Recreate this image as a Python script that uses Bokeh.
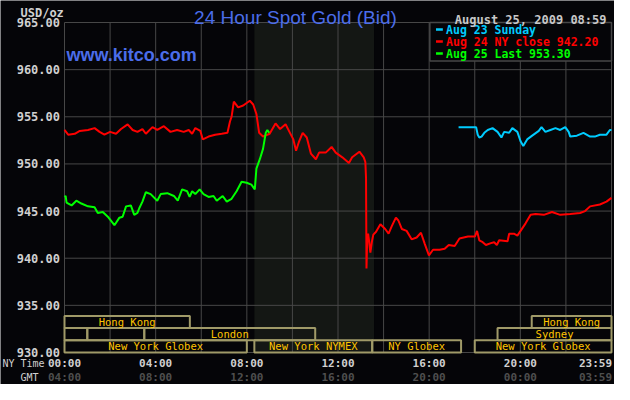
from bokeh.plotting import figure
from bokeh.models import ColumnDataSource, Range1d
from bokeh.core.properties import value
from bokeh.embed import file_html
from bokeh.resources import INLINE

# times are NY hours of the day, prices in USD/oz
aug23_t = [17.29, 18.06, 18.13, 18.2, 18.3, 18.42, 18.57, 18.78, 19.0, 19.17, 19.29, 19.51,
           19.65, 19.87, 20.01, 20.13, 20.3, 20.52, 20.81, 20.93, 21.1, 21.32, 21.54, 21.75,
           21.97, 22.12, 22.19, 22.48, 22.77, 23.06, 23.27, 23.49, 23.78, 23.93, 24.0]
aug23_p = [953.9, 953.9, 953.1, 952.8, 952.9, 953.3, 953.6, 953.8, 953.4, 952.8, 953.4, 953.3,
           953.8, 953.4, 952.4, 951.9, 952.6, 953.0, 953.5, 953.9, 953.4, 953.6, 953.8, 953.6,
           953.9, 953.4, 952.9, 953.0, 953.3, 952.9, 952.9, 953.1, 953.1, 953.6, 953.6]

aug24_t = [0, 0.16, 0.45, 0.67, 1.03, 1.32, 1.54, 1.75, 2.0, 2.26, 2.48, 2.77, 2.99, 3.2, 3.42,
           3.57, 3.86, 4.07, 4.36, 4.65, 4.94, 5.23, 5.45, 5.6, 5.74, 5.96, 6.07, 6.32, 6.61,
           6.9, 7.15, 7.26, 7.33, 7.43, 7.62, 7.84, 8.13, 8.28, 8.42, 8.54, 8.71, 9.0, 9.26,
           9.46, 9.7, 9.87, 10.04, 10.16, 10.28, 10.45, 10.63, 10.81, 11.03, 11.17, 11.46,
           11.72, 11.9, 12.19, 12.48, 12.62, 12.94, 13.13, 13.2, 13.23, 13.25, 13.28, 13.32,
           13.36, 13.42, 13.49, 13.55, 13.67, 13.86, 14.07, 14.22, 14.36, 14.54, 14.65, 14.8,
           15.01, 15.23, 15.45, 15.64, 15.81, 15.99, 16.17, 16.46, 16.68, 16.86, 17.12, 17.33,
           17.7, 18.01, 18.1, 18.2, 18.35, 18.49, 18.71, 18.85, 18.97, 19.07, 19.44, 19.51,
           19.72, 19.87, 20.01, 20.23, 20.45, 20.67, 21.03, 21.39, 21.75, 22.19, 22.62, 22.84,
           23.06, 23.49, 23.78, 24.0]
aug24_p = [953.6, 953.1, 953.2, 953.5, 953.6, 953.8, 953.4, 953.1, 953.4, 953.2, 953.7, 954.2,
           953.6, 953.4, 953.7, 953.2, 953.9, 953.6, 954.0, 953.4, 953.6, 953.4, 953.6, 953.2,
           953.8, 953.5, 952.6, 952.9, 953.1, 953.2, 953.3, 954.5, 955.0, 956.6, 956.0, 956.2,
           956.7, 956.3, 955.3, 953.3, 952.9, 953.2, 954.3, 953.7, 954.2, 953.4, 952.6, 951.4,
           952.3, 953.3, 952.8, 951.1, 950.5, 951.2, 951.2, 951.8, 951.2, 950.7, 950.1, 950.7,
           951.3, 950.7, 950.2, 948.5, 938.9, 942.0, 942.6, 941.9, 940.6, 941.8, 942.5, 942.8,
           943.6, 943.1, 942.6, 943.4, 944.3, 944.0, 943.1, 942.9, 942.0, 942.2, 942.7, 941.5,
           940.3, 940.9, 940.9, 941.0, 941.4, 941.3, 942.1, 942.3, 942.3, 942.9, 941.9, 941.7,
           941.4, 941.6, 941.7, 941.4, 941.9, 941.8, 942.6, 942.6, 942.4, 942.9, 943.7, 944.6,
           944.7, 944.6, 944.9, 944.6, 944.7, 944.8, 945.0, 945.5, 945.7, 946.0, 946.4]

aug25_t = [0, 0.05, 0.09, 0.31, 0.52, 0.74, 1.03, 1.32, 1.46, 1.68, 1.9, 2.19, 2.41, 2.55, 2.7,
           2.91, 3.06, 3.2, 3.28, 3.42, 3.57, 3.78, 4.07, 4.22, 4.51, 4.8, 4.97, 5.16, 5.38,
           5.49, 5.6, 5.74, 5.93, 6.1, 6.32, 6.54, 6.68, 6.94, 7.12, 7.33, 7.55, 7.77, 7.99,
           8.2, 8.35, 8.42, 8.57, 8.71, 8.83, 8.9, 8.98]
aug25_p = [946.5, 946.6, 945.9, 945.6, 946.1, 945.8, 945.5, 945.4, 944.8, 944.9, 944.4, 943.5,
           944.3, 944.4, 945.5, 945.6, 944.6, 944.8, 945.3, 946.0, 947.0, 946.8, 946.1, 946.8,
           946.9, 946.6, 946.1, 947.3, 947.1, 946.5, 947.1, 946.8, 947.3, 946.8, 946.5, 946.6,
           946.1, 946.6, 946.0, 946.3, 947.1, 948.1, 948.0, 947.8, 947.3, 949.5, 950.5, 951.6,
           953.3, 953.6, 953.3]

# trading sessions: row 0 top, row 2 bottom
sess_name = ["Hong Kong", "", "", "London", "New York Globex", "New York NYMEX",
             "NY Globex", "Hong Kong", "Sydney", "New York Globex"]
sess_start = [0, 0, 1, 3.5, 0, 8.33, 13.5, 20.5, 19, 18]
sess_end = [5.5, 1, 3.5, 11, 8.0, 13.5, 17.4, 24, 24, 24]
sess_row = [0, 1, 1, 1, 2, 2, 2, 0, 1, 2]

nymex_start, nymex_end = 8.33, 13.58

price_ticks = [930, 935, 940, 945, 950, 955, 960, 965]
hour_grid = [2, 4, 6, 8, 10, 12, 14, 16, 18, 20, 22]
ny_ticks = [0, 4, 8, 12, 16, 20, 23.3]
ny_labels = ["00:00", "04:00", "08:00", "12:00", "16:00", "20:00", "23:59"]
gmt_labels = ["04:00", "08:00", "12:00", "16:00", "20:00", "00:00", "03:59"]

legend_text = ["Aug 23 Sunday", "Aug 24 NY close 942.20", "Aug 25 Last 953.30"]
legend_color = ["#00CCFF", "#FF0000", "#00FF00"]

BG = "#050508"
GRID = "#474747"
MONO = "DejaVu Sans Mono"
BLUE = "#4B6DEA"
LIGHT = "#D0D0D0"

FW, FH = 614, 384
X0, X1, Y0, Y1 = 64, 611, 22, 352        # chart box in canvas px
PXH = (X1 - X0) / 24.0
PXU = (Y1 - Y0) / 35.0

def hx(px):
    return (px - X0) / PXH

def vy(py):
    return 965 - (py - Y0) / PXU

p = figure(width=FW, height=FH, output_backend="svg", toolbar_location=None,
           x_range=Range1d(hx(0), hx(FW)), y_range=Range1d(vy(FH), vy(0)),
           x_axis_location=None, y_axis_location=None, min_border=0,
           background_fill_color=BG, border_fill_color=BG, outline_line_color=None)
p.grid.visible = False

# NYMEX floor session shading
p.quad(left=[nymex_start], right=[nymex_end], bottom=[930], top=[965],
       fill_color="#141714", line_color=None)

# grid and chart border
p.segment(x0=hour_grid, y0=[930] * len(hour_grid), x1=hour_grid, y1=[965] * len(hour_grid),
          line_color=GRID, line_width=1)
inner = price_ticks[1:-1]
p.segment(x0=[0] * len(inner), y0=inner, x1=[24] * len(inner), y1=inner,
          line_color=GRID, line_width=1)
p.quad(left=[0], right=[24], bottom=[930], top=[965], fill_color=None,
       line_color=GRID, line_width=1)

# legend box
p.quad(left=[16.03], right=[24], bottom=[vy(Y0 + 38.5)], top=[965],
       fill_color=BG, line_color=GRID, line_width=1.5)

# session boxes
row_h = 12.2 / PXU
top0 = 930 + 3 * row_h
sess = ColumnDataSource(dict(
    name=sess_name,
    left=sess_start,
    right=sess_end,
    top=[top0 - r * row_h for r in sess_row],
    bottom=[top0 - (r + 1) * row_h for r in sess_row],
    mid=[(a + b) / 2 for a, b in zip(sess_start, sess_end)],
    cy=[top0 - (r + 0.5) * row_h for r in sess_row],
))
p.quad(left="left", right="right", top="top", bottom="bottom", source=sess,
       fill_color=None, line_color="#A09A68", line_width=2)
p.text(x="mid", y="cy", text="name", source=sess, text_align="center",
       text_baseline="middle", text_font=value(MONO), text_font_size="10.5px",
       text_color="#FFC400")

# price lines
p.line(aug23_t, aug23_p, line_color=legend_color[0], line_width=2)
p.line(aug24_t, aug24_p, line_color=legend_color[1], line_width=2)
p.line(aug25_t, aug25_p, line_color=legend_color[2], line_width=2)

# legend entries
leg_y = [vy(Y0 + 7 + 12 * i) for i in range(3)]
p.segment(x0=[16.3] * 3, y0=leg_y, x1=[16.6] * 3, y1=leg_y,
          line_color=legend_color, line_width=2.5)
p.text(x=[16.74] * 3, y=leg_y, text=legend_text, text_color=legend_color,
       text_baseline="middle", text_font=value(MONO), text_font_size="11.5px",
       text_font_style="bold")

# tick labels
p.text(x=[hx(X0 - 4.5)] * len(price_ticks), y=price_ticks,
       text=["%.2f" % v for v in price_ticks], text_align="right", text_baseline="middle",
       text_font=value(MONO), text_font_size="12px", text_font_style="bold",
       text_color=LIGHT)
p.text(x=ny_ticks, y=[vy(Y1 + 11)] * len(ny_ticks), text=ny_labels, text_align="center",
       text_baseline="middle", text_font=value(MONO), text_font_size="11px",
       text_font_style="bold", text_color=LIGHT)
p.text(x=ny_ticks, y=[vy(Y1 + 25)] * len(ny_ticks), text=gmt_labels, text_align="center",
       text_baseline="middle", text_font=value(MONO), text_font_size="11px",
       text_font_style="bold", text_color="#4E4E4E")

# captions
p.text(x=[hx(2), hx(20)], y=[vy(Y1 + 11), vy(Y1 + 25)], text=["NY Time", "GMT"],
       text_baseline="middle", text_font=value(MONO), text_font_size="10px",
       text_color=LIGHT)
p.text(x=[hx(20)], y=[vy(12)], text=["USD/oz"], text_baseline="alphabetic",
       text_font=value(MONO), text_font_size="12px", text_font_style="bold",
       text_color=LIGHT)
p.text(x=[hx(295)], y=[vy(17)], text=["24 Hour Spot Gold (Bid)"], text_align="center",
       text_baseline="alphabetic", text_font=value("Liberation Sans"),
       text_font_size="19px", text_color=BLUE)
p.text(x=[hx(X0 + 2)], y=[vy(Y0 + 32.5)], text=["www.kitco.com"],
       text_baseline="alphabetic", text_font=value("Liberation Sans"),
       text_font_size="18px", text_font_style="bold", text_color=BLUE)
p.text(x=[hx(606)], y=[vy(19)], text=["August 25, 2009 08:59"], text_align="right",
       text_baseline="alphabetic", text_font=value(MONO), text_font_size="12px",
       text_font_style="bold", text_color="#C8C8C8")

open("out.html", "w").write(file_html(p, INLINE))
